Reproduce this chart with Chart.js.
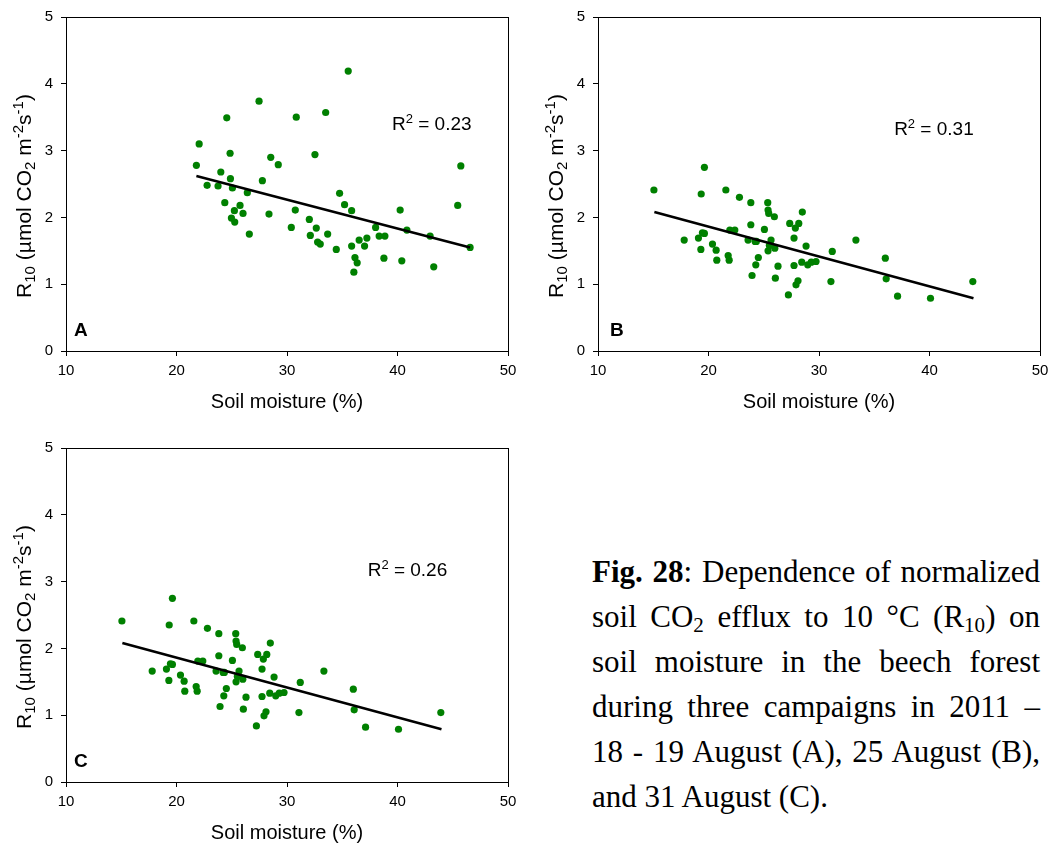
<!DOCTYPE html>
<html>
<head>
<meta charset="utf-8">
<script src="https://cdn.jsdelivr.net/npm/chart.js@4.4.0/dist/chart.umd.min.js"></script>
<style>
  body { margin:0; background:#fff; overflow:hidden; width:1054px; height:843px; position:relative; }
  canvas { position:absolute; }
  #caption { position:absolute; left:592px; top:549px; width:448px; font-family:"Liberation Serif", serif; font-size:31px; line-height:45px; color:#000; }
  #caption div { text-align:justify; text-align-last:justify; }
  #caption div.last { text-align:left; text-align-last:left; }
  #caption sub { font-size:0.68em; vertical-align:-0.25em; line-height:0; }
</style>
</head>
<body>
<canvas id="chartA" width="530" height="420" style="left:0px;top:0px"></canvas>
<canvas id="chartB" width="530" height="420" style="left:532px;top:0px"></canvas>
<canvas id="chartC" width="530" height="420" style="left:0px;top:431px"></canvas>
<div id="caption">
  <div><b>Fig. 28</b>: Dependence of normalized</div>
  <div>soil CO<sub>2</sub> efflux to 10 °C (R<sub>10</sub>) on</div>
  <div>soil moisture in the beech forest</div>
  <div>during three campaigns in 2011 –</div>
  <div>18 - 19 August (A), 25 August (B),</div>
  <div class="last">and 31 August (C).</div>
</div>
<script>
// soil moisture (%) and R10
let moistureA = [35.54,27.47,24.55,30.84,33.50,22.05,24.85,28.53,29.21,32.53,21.80,24.01,24.88,27.77,22.77,23.76,25.06,26.41,34.76,35.21,
  24.37,25.75,25.24,26.02,28.37,30.75,24.97,25.27,30.39,32.02,32.65,26.59,32.11,33.68,32.77,33.01,34.46,45.73,35.85,40.24,
  45.45,38.02,40.85,42.95,46.57,35.85,36.53,37.02,37.23,38.34,38.86,36.15,36.35,36.05,38.77,40.39,43.28]
let r10A = [4.19,3.74,3.49,3.50,3.57,3.10,2.96,2.90,2.79,2.94,2.78,2.68,2.58,2.55,2.48,2.47,2.44,2.37,2.36,2.19,
  2.22,2.18,2.10,2.06,2.05,2.11,1.99,1.93,1.85,1.97,1.84,1.75,1.73,1.75,1.63,1.60,1.52,2.77,2.10,2.11,
  2.18,1.85,1.81,1.72,1.55,1.57,1.66,1.57,1.69,1.72,1.72,1.40,1.32,1.18,1.39,1.35,1.26]

let moistureB = [15.06,19.63,19.34,21.57,22.80,23.83,25.36,25.39,25.45,25.96,28.49,27.35,28.17,27.86,23.83,25.06,21.93,22.38,19.45,19.63,
  19.09,17.80,27.74,23.58,24.22,24.33,25.66,25.51,25.39,26.00,33.34,20.36,20.69,19.31,28.83,31.20,21.78,21.87,20.75,24.51,
  24.28,26.29,27.74,28.44,28.98,29.30,29.73,23.94,26.05,28.10,27.92,31.08,27.23,36.00,36.08,37.11,40.09,43.92]
let r10B = [2.41,2.75,2.35,2.41,2.30,2.22,2.22,2.11,2.06,2.01,2.08,1.91,1.91,1.84,1.89,1.82,1.81,1.81,1.77,1.76,
  1.69,1.66,1.69,1.66,1.64,1.64,1.66,1.58,1.50,1.54,1.66,1.60,1.51,1.52,1.57,1.49,1.43,1.36,1.36,1.40,
  1.29,1.27,1.28,1.33,1.29,1.33,1.34,1.13,1.09,1.05,0.99,1.04,0.84,1.39,1.08,0.82,0.79,1.04]

// panel C shows the same points as B in the figure
let moistureC = [15.06,19.63,19.34,21.57,22.80,23.83,25.36,25.39,25.45,25.96,28.49,27.35,28.17,27.86,23.83,25.06,21.93,22.38,19.45,19.63,
  19.09,17.80,27.74,23.58,24.22,24.33,25.66,25.51,25.39,26.00,33.34,20.36,20.69,19.31,28.83,31.20,21.78,21.87,20.75,24.51,
  24.28,26.29,27.74,28.44,28.98,29.30,29.73,23.94,26.05,28.10,27.92,31.08,27.23,36.00,36.08,37.11,40.09,43.92]
let r10C = [2.41,2.75,2.35,2.41,2.30,2.22,2.22,2.11,2.06,2.01,2.08,1.91,1.91,1.84,1.89,1.82,1.81,1.81,1.77,1.76,
  1.69,1.66,1.69,1.66,1.64,1.64,1.66,1.58,1.50,1.54,1.66,1.60,1.51,1.52,1.57,1.49,1.43,1.36,1.36,1.40,
  1.29,1.27,1.28,1.33,1.29,1.33,1.34,1.13,1.09,1.05,0.99,1.04,0.84,1.39,1.08,0.82,0.79,1.04]

// regression lines (ends as drawn)
let fitXA = [21.80, 46.57]
let fitYA = [2.62, 1.55]
let fitXB = [15.1, 43.98]
let fitYB = [2.08, 0.79]
let fitXC = [15.1, 43.98]
let fitYC = [2.08, 0.79]

let r2Values = ['0.23', '0.31', '0.26']
let panelLetters = ['A', 'B', 'C']
let xRange = [10, 50]
let yRange = [0, 5]

function toPoints(xs, ys) {
  return xs.map((x, i) => ({x: x, y: ys[i]}))
}

// draws text made of pieces [text, size, shift]
function drawParts(ctx, parts, x, y, align) {
  let w = 0
  parts.forEach(p => {
    ctx.font = p[1] + 'px "Liberation Sans", Arial, sans-serif'
    w += ctx.measureText(p[0]).width
  })
  let cx = align === 'center' ? x - w / 2 : x
  parts.forEach(p => {
    ctx.font = p[1] + 'px "Liberation Sans", Arial, sans-serif'
    ctx.fillText(p[0], cx, y + p[2])
    cx += ctx.measureText(p[0]).width
  })
}

let yTitleParts = [['R', 21, 0], ['10', 15, 4], [' (µmol CO', 21, 0], ['2', 15, 4], [' m', 21, 0], ['-2', 15, -8], ['s', 21, 0], ['-1', 15, -8], [')', 21, 0]]

const deco = {
  id: 'deco',
  afterDraw(chart, args, o) {
    const ctx = chart.ctx
    const a = chart.chartArea
    ctx.save()
    ctx.strokeStyle = '#000'
    ctx.lineWidth = 1
    ctx.strokeRect(Math.round(a.left) + 0.5, Math.round(a.top) + 0.5, Math.round(a.right - a.left), Math.round(a.bottom - a.top))
    ctx.fillStyle = '#000'
    ctx.textBaseline = 'alphabetic'
    ctx.font = 'bold 19px "Liberation Sans", Arial, sans-serif'
    ctx.fillText(o.letter, a.left + o.letterDx, a.bottom - 15)
    let rx = chart.scales.x.getPixelForValue(o.r2At[0])
    let ry = chart.scales.y.getPixelForValue(o.r2At[1])
    drawParts(ctx, [['R', 19, 0], ['2', 13, -7], [' = ' + o.r2, 19, 0]], rx, ry, 'left')
    ctx.translate(31, o.titleY)
    ctx.rotate(-Math.PI / 2)
    drawParts(ctx, yTitleParts, 0, 0, 'center')
    ctx.restore()
  }
}

function makePanel(id, xs, ys, fx, fy, idx, r2At, letterDx) {
  new Chart(document.getElementById(id).getContext('2d'), {
    type: 'scatter',
    data: {
      datasets: [{
        data: toPoints(xs, ys),
        pointRadius: 3.6,
        pointBackgroundColor: '#008000',
        pointBorderWidth: 0,
        order: 1
      }, {
        data: toPoints(fx, fy),
        showLine: true,
        borderColor: '#000',
        borderWidth: 2.5,
        pointRadius: 0,
        order: 0
      }]
    },
    options: {
      responsive: false,
      animation: false,
      devicePixelRatio: 1,
      layout: { padding: { left: 0, top: 17, right: 22, bottom: 0 } },
      plugins: {
        legend: { display: false },
        tooltip: { enabled: false },
        deco: { letter: panelLetters[idx], r2: r2Values[idx], r2At: r2At, letterDx: letterDx, titleY: 196 }
      },
      scales: {
        x: {
          type: 'linear', min: xRange[0], max: xRange[1],
          afterFit: s => { s.height = 69 },
          ticks: { stepSize: 10, color: '#000', padding: 6, font: { family: '"Liberation Sans", Arial', size: 15 } },
          grid: { drawOnChartArea: false, tickLength: 5, color: '#000' },
          border: { color: '#000' },
          title: { display: true, text: 'Soil moisture (%)', color: '#000', padding: { bottom: 6 }, font: { family: '"Liberation Sans", Arial', size: 20 } }
        },
        y: {
          min: yRange[0], max: yRange[1],
          afterFit: s => { s.width = 66 },
          ticks: { stepSize: 1, color: '#000', padding: 8, font: { family: '"Liberation Sans", Arial', size: 15 } },
          grid: { drawOnChartArea: false, tickLength: 5, color: '#000' },
          border: { color: '#000' }
        }
      }
    },
    plugins: [deco]
  })
}

makePanel('chartA', moistureA, r10A, fitXA, fitYA, 0, [39.5, 3.31], 8)
makePanel('chartB', moistureB, r10B, fitXB, fitYB, 1, [36.8, 3.23], 12)
makePanel('chartC', moistureC, r10C, fitXC, fitYC, 2, [37.3, 3.08], 8)
</script>
</body>
</html>
